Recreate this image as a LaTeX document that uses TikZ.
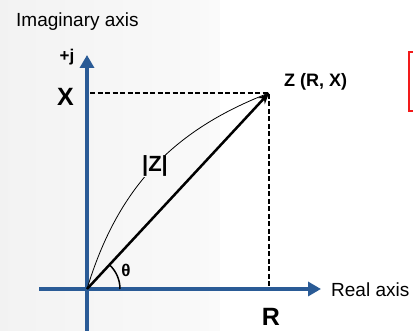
\documentclass[tikz,border=0pt]{standalone}
\usepackage{fontspec}
\setmainfont{Liberation Sans}
\usetikzlibrary{arrows.meta, positioning}
\definecolor{axisblue}{HTML}{2A5B96}
\definecolor{boxred}{HTML}{F21A1A}

\begin{document}
\begin{tikzpicture}[x=1pt, y=1pt,
  axis/.style={draw=axisblue, line width=4pt, -{Triangle[length=13pt, width=14pt]}},
  guide/.style={draw, line width=1.8pt, dash pattern=on 5pt off 2.5pt},
  vec/.style={draw, line width=2.5pt, -{Stealth[length=11pt, width=9pt]}},
  lbl/.style={font=\fontsize{19}{21}\selectfont, inner sep=0pt},
  big/.style={font=\fontsize{25}{27}\selectfont\bfseries, inner sep=0pt},
  tag/.style={font=\fontsize{18}{20}\selectfont\bfseries, inner sep=0pt}]
  \useasboundingbox (0,0) rectangle (413,331);
  % background
  \shade[left color=black!5, right color=black!2] (0,0) rectangle (220,331);
  \fill[white] (220,0) rectangle (413,331);
  \draw[boxred, line width=2.5pt] (409,279) rectangle (440,220);
  % points
  \coordinate (O) at (87,42);
  \coordinate (Z) at (269,238);
  \coordinate (ytop) at (87,276);
  \coordinate (ybot) at (87,0);
  \coordinate (xleft) at (39,42);
  \coordinate (xright) at (321,42);
  \coordinate (zfoot) at (269,44);
  \coordinate (zside) at (90,238);
  % axes
  \draw [axis] (xleft) -- (xright);
  \draw [axis] (ybot) -- (ytop);
  % projections
  \draw [guide] (zside) -- (Z) -- (zfoot);
  % magnitude curve and vector
  \draw [line width=0.8pt] (O) to[bend left=26] (Z);
  \node [tag, font=\fontsize{22}{24}\selectfont\bfseries, fill=black!3, inner sep=1pt] (mag) at (155,165) {|Z|};
  \draw [vec] (O) -- (Z);
  \draw [line width=1.5pt] ([shift={(0:33)}]O) arc[start angle=0, end angle=47, radius=33];
  % labels
  \node [lbl, anchor=base west] (imag) at (16,304) {Imaginary axis};
  \node [lbl, anchor=base west] (real) at (331,34) {Real axis};
  \node [tag, font=\fontsize{17}{19}\selectfont\bfseries, anchor=base] (plusj) at (67,269) {+j};
  \node [big, anchor=base] (xval) at (65.5,225) {X};
  \node [big, anchor=base] (rval) at (271,5) {R};
  \node [tag, anchor=base west] (zpt) at (284,244) {Z (R, X)};
  \node [tag, font=\fontsize{17}{19}\selectfont\bfseries, anchor=base] (theta) at (126,54) {θ};
\end{tikzpicture}
\end{document}
